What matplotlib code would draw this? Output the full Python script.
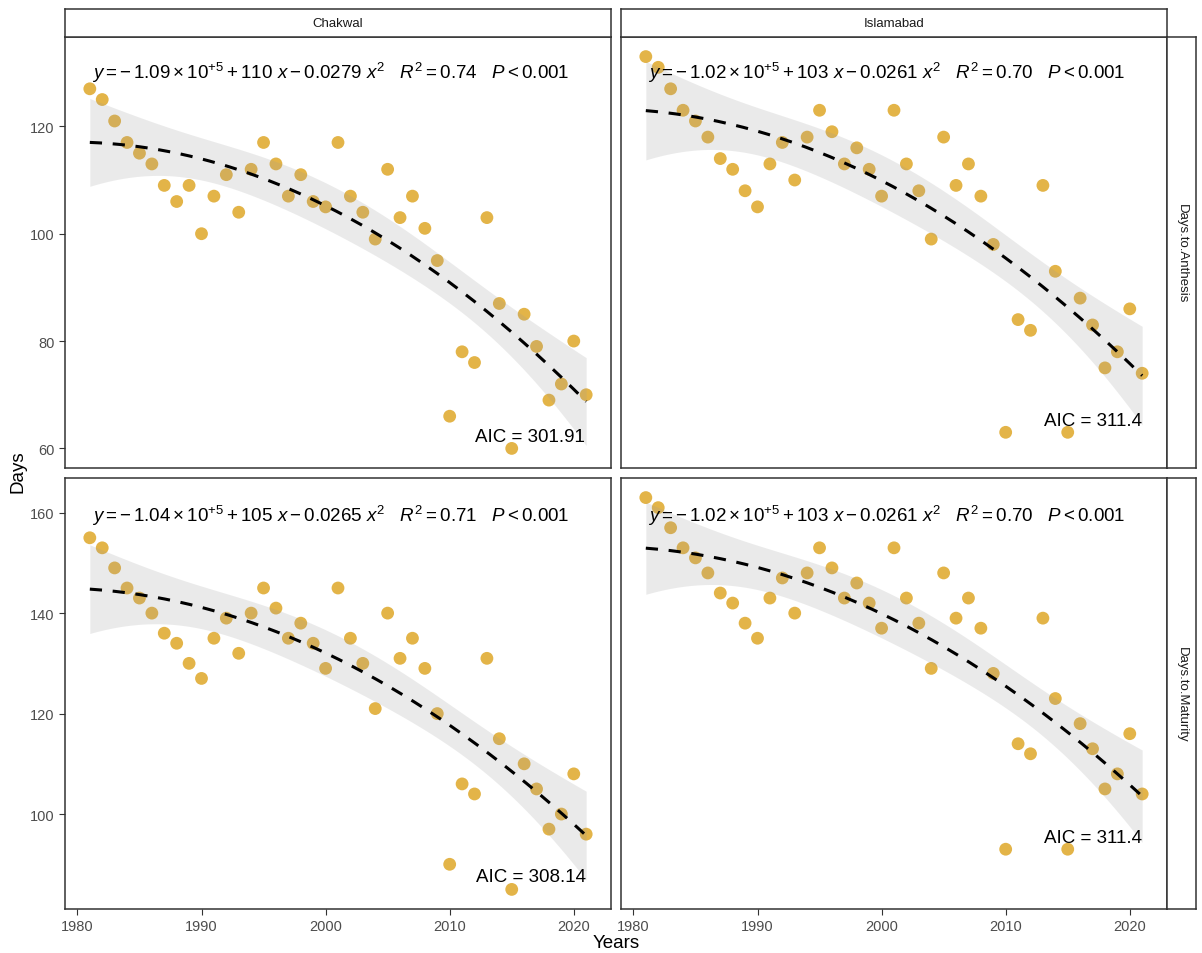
import numpy as np
import matplotlib
matplotlib.use("Agg")
import matplotlib.pyplot as plt

plt.rcParams['font.family'] = ['Liberation Sans', 'DejaVu Sans']
plt.rcParams['mathtext.fontset'] = 'custom'
plt.rcParams['mathtext.rm'] = 'Liberation Sans'
plt.rcParams['mathtext.it'] = 'Liberation Sans:italic'

years = np.arange(1981, 2022)

chakwal_anthesis = [127, 125, 121, 117, 115, 113, 109, 106, 109, 100,
                    107, 111, 104, 112, 117, 113, 107, 111, 106, 105,
                    117, 107, 104, 99, 112, 103, 107, 101, 95, 66,
                    78, 76, 103, 87, 60, 85, 79, 69, 72, 80, 70]
islamabad_anthesis = [133, 131, 127, 123, 121, 118, 114, 112, 108, 105,
                      113, 117, 110, 118, 123, 119, 113, 116, 112, 107,
                      123, 113, 108, 99, 118, 109, 113, 107, 98, 63,
                      84, 82, 109, 93, 63, 88, 83, 75, 78, 86, 74]
chakwal_maturity = [155, 153, 149, 145, 143, 140, 136, 134, 130, 127,
                    135, 139, 132, 140, 145, 141, 135, 138, 134, 129,
                    145, 135, 130, 121, 140, 131, 135, 129, 120, 90,
                    106, 104, 131, 115, 85, 110, 105, 97, 100, 108, 96]
islamabad_maturity = [163, 161, 157, 153, 151, 148, 144, 142, 138, 135,
                      143, 147, 140, 148, 153, 149, 143, 146, 142, 137,
                      153, 143, 138, 129, 148, 139, 143, 137, 128, 93,
                      114, 112, 139, 123, 93, 118, 113, 105, 108, 116, 104]

locations = ["Chakwal", "Islamabad"]
traits = ["Days.to.Anthesis", "Days.to.Maturity"]
series = {("Days.to.Anthesis", "Chakwal"): chakwal_anthesis,
          ("Days.to.Anthesis", "Islamabad"): islamabad_anthesis,
          ("Days.to.Maturity", "Chakwal"): chakwal_maturity,
          ("Days.to.Maturity", "Islamabad"): islamabad_maturity}

equations = {
    ("Days.to.Anthesis", "Chakwal"): r"$y = -\,1.09 \times 10^{+5} + 110\ x - 0.0279\ x^2$   $R^2 = 0.74$   $P < 0.001$",
    ("Days.to.Anthesis", "Islamabad"): r"$y = -\,1.02 \times 10^{+5} + 103\ x - 0.0261\ x^2$   $R^2 = 0.70$   $P < 0.001$",
    ("Days.to.Maturity", "Chakwal"): r"$y = -\,1.04 \times 10^{+5} + 105\ x - 0.0265\ x^2$   $R^2 = 0.71$   $P < 0.001$",
    ("Days.to.Maturity", "Islamabad"): r"$y = -\,1.02 \times 10^{+5} + 103\ x - 0.0261\ x^2$   $R^2 = 0.70$   $P < 0.001$",
}
aic_labels = {("Days.to.Anthesis", "Chakwal"): "AIC = 301.91",
              ("Days.to.Anthesis", "Islamabad"): "AIC = 311.4",
              ("Days.to.Maturity", "Chakwal"): "AIC = 308.14",
              ("Days.to.Maturity", "Islamabad"): "AIC = 311.4"}
aic_pos = {("Days.to.Anthesis", "Chakwal"): (0.952, 0.072),
           ("Days.to.Anthesis", "Islamabad"): (0.954, 0.110),
           ("Days.to.Maturity", "Chakwal"): (0.954, 0.076),
           ("Days.to.Maturity", "Islamabad"): (0.954, 0.167)}

point_color = "#E3B448"
W, H = 1202, 954


def fx(px):
    return px / W


def fy(py):
    return 1 - py / H


def quad_fit(x, y):
    # quadratic lm with 95% confidence band
    xc = x - x.mean()
    X = np.column_stack([np.ones_like(xc), xc, xc ** 2])
    beta, *_ = np.linalg.lstsq(X, y, rcond=None)
    resid = y - X @ beta
    dof = len(y) - 3
    s2 = resid @ resid / dof
    cov = s2 * np.linalg.inv(X.T @ X)
    xs = np.linspace(x.min(), x.max(), 200)
    xsc = xs - x.mean()
    Xs = np.column_stack([np.ones_like(xsc), xsc, xsc ** 2])
    fit = Xs @ beta
    se = np.sqrt(np.einsum("ij,jk,ik->i", Xs, cov, Xs))
    t = 2.024  # t(0.975, 38)
    return xs, fit, fit - t * se, fit + t * se


def style_box(a):
    for sp in a.spines.values():
        sp.set_color("#333333")
        sp.set_linewidth(1.1)


fig = plt.figure(figsize=(W / 100, H / 100), dpi=100)

col_x = [(65, 611), (621, 1167)]
row_y = [(38, 469), (479, 910)]
row_ticks = [[60, 80, 100, 120], [100, 120, 140, 160]]

for r, trait in enumerate(traits):
    for c, loc in enumerate(locations):
        x0, x1 = col_x[c]
        y0, y1 = row_y[r]
        ax = fig.add_axes([fx(x0), fy(y1), fx(x1 - x0), (y1 - y0) / H])
        y = np.array(series[(trait, loc)], dtype=float)
        x = years.astype(float)
        ax.scatter(x, y, s=85, color=point_color, edgecolors="none", zorder=2)
        xs, fit, lo, hi = quad_fit(x, y)
        ax.fill_between(xs, lo, hi, color="#999999", alpha=0.2, lw=0, zorder=3)
        ax.plot(xs, fit, color="black", lw=2.2, ls=(0, (4, 3.5)), zorder=4)

        ax.text(0.05, 0.92 if r == 0 else 0.914,
                equations[(trait, loc)], transform=ax.transAxes,
                fontsize=13.5, ha="left", va="center", zorder=5)
        ax_, ay_ = aic_pos[(trait, loc)]
        ax.text(ax_, ay_, aic_labels[(trait, loc)], transform=ax.transAxes,
                fontsize=13.5, ha="right", va="center", zorder=5)

        ax.set_xlim(1979, 2023)
        if r == 0:
            ax.set_ylim(56.35, 136.65)
        else:
            ax.set_ylim(81.1, 166.9)
        ax.set_xticks([1980, 1990, 2000, 2010, 2020])
        ax.set_yticks(row_ticks[r])
        ax.tick_params(colors="#333333", labelcolor="#4D4D4D", labelsize=10.5,
                       length=4, width=0.8)
        if c == 1:
            ax.tick_params(axis="y", left=False, labelleft=False)
        if r == 0:
            ax.tick_params(axis="x", bottom=False, labelbottom=False)
        style_box(ax)

        # top strips
        if r == 0:
            sax = fig.add_axes([fx(x0), fy(38), fx(x1 - x0), 28 / H])
            sax.set_xticks([])
            sax.set_yticks([])
            style_box(sax)
            sax.text(0.5, 0.5, loc, ha="center", va="center",
                     fontsize=9.5, color="#1A1A1A", transform=sax.transAxes)
        # right strips
        if c == 1:
            sax = fig.add_axes([fx(1167), fy(y1), fx(29), (y1 - y0) / H])
            sax.set_xticks([])
            sax.set_yticks([])
            style_box(sax)
            sax.text(0.5, 0.5, trait, ha="center", va="center", rotation=-90,
                     fontsize=9.5, color="#1A1A1A", transform=sax.transAxes)

fig.text(fx(616), fy(944), "Years", ha="center", va="center", fontsize=13.5)
fig.text(fx(18), fy(472), "Days", ha="center", va="center", rotation=90, fontsize=13.5)

fig.savefig("out.png", dpi=100)
